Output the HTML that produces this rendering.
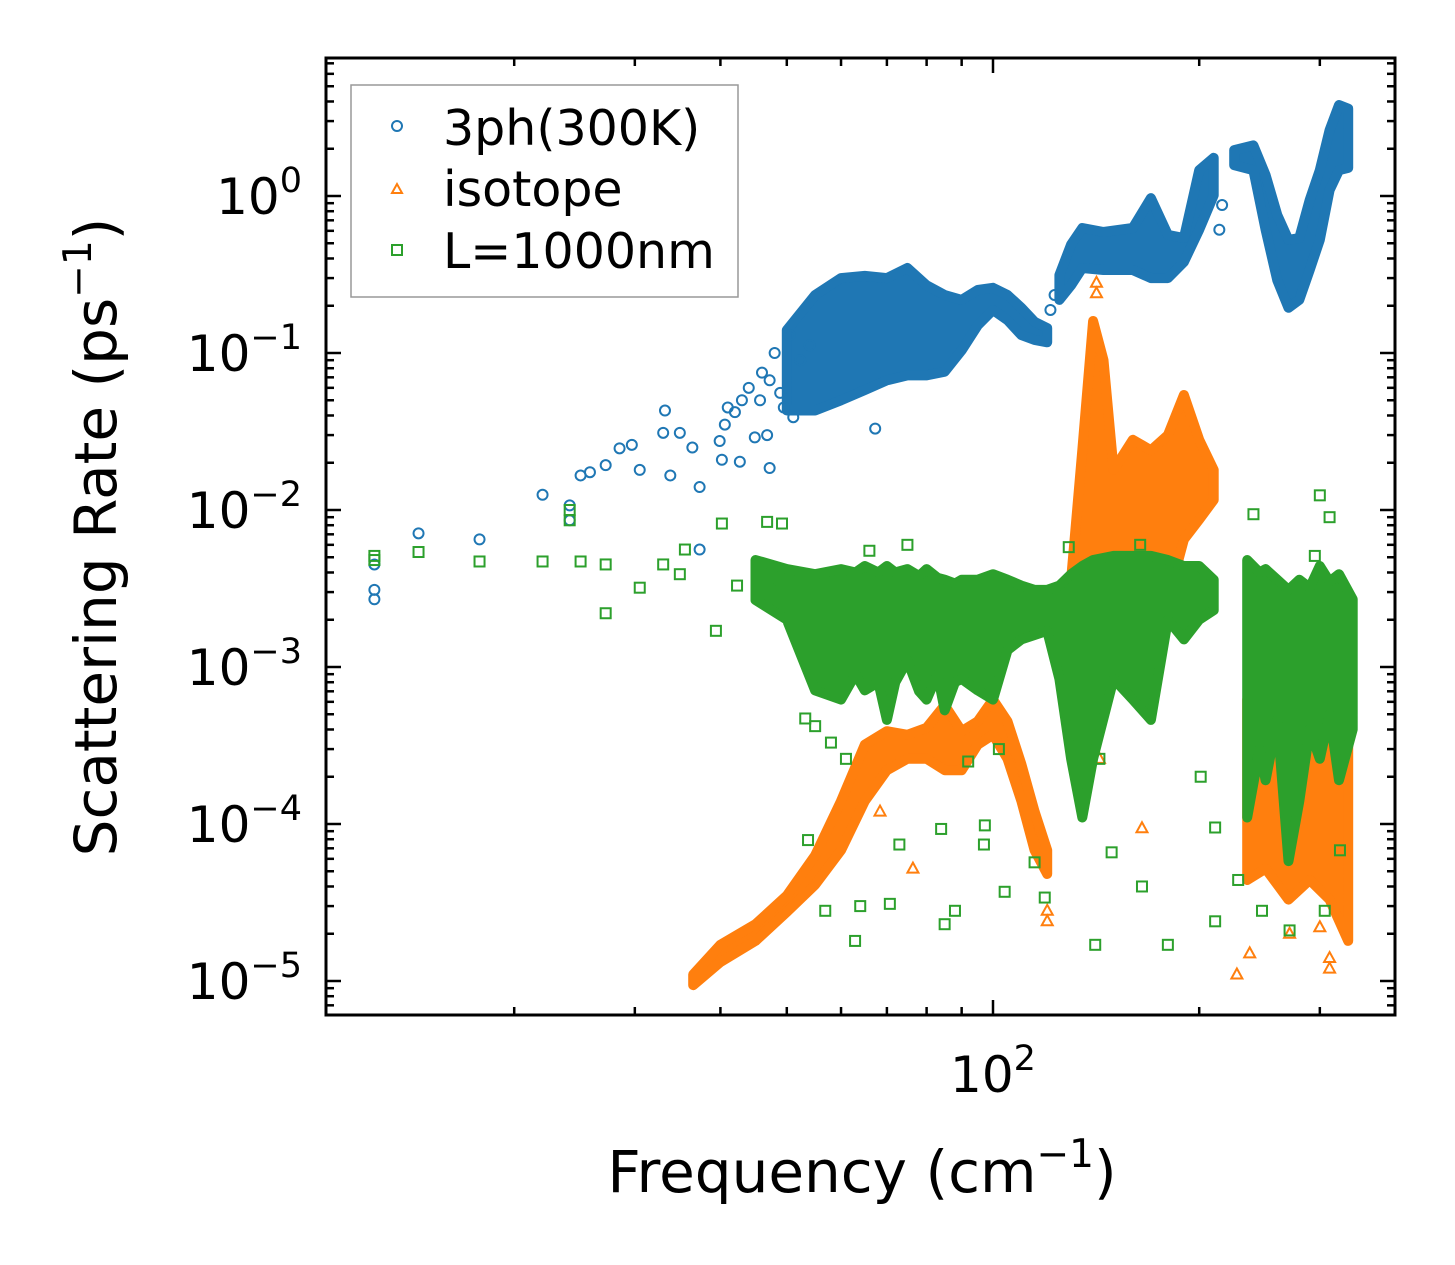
<!DOCTYPE html>
<html><head><meta charset="utf-8">
<style>
html,body{margin:0;padding:0;background:#fff;}
svg{display:block;font-family:"DejaVu Sans","Liberation Sans",sans-serif;}
</style></head>
<body>
<svg id="chart" width="1455" height="1265" viewBox="0 0 1455 1265" xmlns="http://www.w3.org/2000/svg">
<rect x="0" y="0" width="1455" height="1265" fill="#fff"/>
<g id="marks"></g>
<g id="axes"></g>
<text x="862" y="1192" font-size="58" text-anchor="middle">Frequency (cm<tspan font-size="39" dy="-25">−1</tspan><tspan dy="25">)</tspan></text>
<text transform="translate(116,537) rotate(-90)" font-size="58" text-anchor="middle">Scattering Rate (ps<tspan font-size="39" dy="-25">−1</tspan><tspan dy="25">)</tspan></text>
<g>
<rect x="351" y="85" width="387" height="212" fill="#fff" stroke="#999" stroke-width="1.5"/>
<circle cx="397" cy="126" r="5" fill="none" stroke="#1f77b4" stroke-width="2"/>
<text x="443" y="145" font-size="49">3ph(300K)</text>
<polygon points="397,184 392,193 402,193" fill="none" stroke="#ff7f0e" stroke-width="2"/>
<text x="443" y="206" font-size="49">isotope</text>
<rect x="392" y="245" width="10" height="10" fill="none" stroke="#2ca02c" stroke-width="2"/>
<text x="443" y="268" font-size="49">L=1000nm</text>
</g>
</svg>
<script>
// ---- data (frequency in cm^-1, rate in ps^-1) ----
const blueBandF  = [50,55,60,65,70,75,80,85,90,95,100,105,110,115,120,null,125,130,135,145,160,170,180,190,200,210,null,225,240,250,260,270,280,290,300,310,320,330];
const blueBandHi = [0.14,0.234,0.30,0.31,0.30,0.348,0.27,0.234,0.218,0.252,0.26,0.234,0.194,0.158,0.144,null,0.314,0.49,0.625,0.59,0.625,0.97,0.565,0.54,1.46,1.75,null,1.96,2.1,1.36,0.757,0.525,0.54,0.943,1.46,2.63,3.8,3.6];
const blueBandLo = [0.043,0.043,0.050,0.058,0.067,0.072,0.072,0.076,0.104,0.150,0.188,0.162,0.130,0.121,0.117,null,0.218,0.27,0.348,0.338,0.338,0.30,0.30,0.38,0.61,1.01,null,1.57,1.46,0.61,0.29,0.194,0.218,0.338,0.525,1.09,1.46,1.51];
const bluePtsF = [12.5,12.5,12.5,14.5,17.8,22.0,24.1,24.1,25.0,25.8,27.2,28.5,29.7,30.5,33.0,33.2,33.8,34.9,36.4,37.3,39.9,40.2,40.6,42.0,42.7,44.9,45.7,46.8,47.2,48.9,51.1,67.3,37.3,52.3,54.0,47.2,123,121.3,214,216,46,48,49.5,44,43,41,50.5];
const bluePtsR = [4.5e-3,3.1e-3,2.7e-3,7.1e-3,6.5e-3,0.0125,0.0107,8.6e-3,0.0166,0.0174,0.0193,0.0247,0.026,0.018,0.031,0.043,0.0166,0.031,0.025,0.014,0.0275,0.0209,0.035,0.042,0.0203,0.029,0.050,0.030,0.0185,0.0557,0.039,0.033,5.6e-3,0.09,0.112,0.067,0.234,0.188,0.61,0.876,0.075,0.1,0.045,0.06,0.05,0.045,0.13];

const orangeBandF  = [36.5,40,45,50,55,60,65,70,75,80,85,90,95,100,105,110,115,120,null,130,135,140,145,150,160,170,180,190,200,210,null,235,250,270,290,310,330];
const orangeBandHi = [1.1e-5,1.7e-5,2.3e-5,3.5e-5,6.3e-5,1.4e-4,3.2e-4,3.9e-4,3.7e-4,4.1e-4,5.7e-4,3.9e-4,4.5e-4,6.2e-4,4.5e-4,2.4e-4,1.2e-4,6.8e-5,null,3.6e-3,0.024,0.16,0.09,0.018,0.028,0.024,0.030,0.054,0.028,0.018,null,6.2e-4,7.1e-4,4.6e-4,1.28e-3,8.4e-4,4.6e-4];
const orangeBandLo = [9.4e-6,1.32e-5,1.8e-5,2.75e-5,4.1e-5,6.8e-5,1.4e-4,2.2e-4,2.6e-4,2.6e-4,2.2e-4,2.2e-4,3.2e-4,3.7e-4,2.6e-4,1.4e-4,6.8e-5,4.8e-5,null,1.28e-3,2.7e-3,4.8e-3,4.8e-3,4.8e-3,4.2e-3,2.7e-3,2.7e-3,6.5e-3,8.7e-3,0.0116,null,4.4e-5,5.2e-5,3.3e-5,4.4e-5,3.3e-5,1.8e-5];
const orangePtsF = [165,227,237,310,310,120,120,143,271,300,68.4,76.4,141.6,141.6,130];
const orangePtsR = [9.4e-5,1.1e-5,1.5e-5,1.4e-5,1.2e-5,2.8e-5,2.4e-5,2.6e-4,2e-5,2.2e-5,1.2e-4,5.2e-5,0.24,0.28,2.3e-3];

const greenBandF  = [45,50,55,60,63,65,68,70,72,75,78,80,83,85,88,90,95,100,105,110,115,120,125,130,135,140,150,160,170,180,190,200,210,null,235,245,250,260,270,280,290,300,310,320,335];
const greenBandHi = [4.8e-3,4.2e-3,3.9e-3,4.2e-3,4.0e-3,4.4e-3,4.0e-3,4.4e-3,4.0e-3,4.2e-3,3.8e-3,4.2e-3,3.7e-3,3.6e-3,3.4e-3,3.6e-3,3.6e-3,3.9e-3,3.6e-3,3.3e-3,3.1e-3,3.1e-3,3.3e-3,3.9e-3,4.4e-3,4.8e-3,5.1e-3,5.1e-3,5.1e-3,4.8e-3,4.4e-3,4.4e-3,3.6e-3,null,4.8e-3,4.0e-3,4.2e-3,3.6e-3,3.1e-3,3.6e-3,3.2e-3,4.4e-3,3.5e-3,3.9e-3,2.7e-3];
const greenBandLo = [2.67e-3,2.0e-3,7.1e-4,6.2e-4,9e-4,7.1e-4,8e-4,4.6e-4,8e-4,1.1e-3,7e-4,6.2e-4,9e-4,5.3e-4,8e-4,8.4e-4,7.1e-4,6.2e-4,1.28e-3,1.5e-3,1.6e-3,1.7e-3,8.4e-4,2.6e-4,1.1e-4,2.6e-4,8.4e-4,6.2e-4,4.6e-4,2.0e-3,1.5e-3,2.0e-3,2.3e-3,null,1.1e-4,3e-4,1.9e-4,4.6e-4,5.8e-5,1.4e-4,4e-4,2.6e-4,5e-4,1.9e-4,4.0e-4];
const greenPtsF = [12.5,12.5,14.5,17.8,22.0,24.1,24.1,25,27.2,27.2,30.5,33,34.9,35.5,39.4,40.2,42.3,46.8,47.2,49.2,53.2,53.7,56.9,62.9,64,70.7,85,88,97.3,104,119,115,141,149,165,180,201,211,211,228,247,271,305,300,310,240,295,164,129,143,84,97,73,321,55,58,61,66,75,92,102];
const greenPtsR = [5.1e-3,4.8e-3,5.4e-3,4.7e-3,4.7e-3,0.0100,8.6e-3,4.7e-3,4.5e-3,2.2e-3,3.2e-3,4.5e-3,3.9e-3,5.6e-3,1.7e-3,8.2e-3,3.3e-3,8.4e-3,3.6e-3,8.2e-3,4.7e-4,7.9e-5,2.8e-5,1.8e-5,3.0e-5,3.1e-5,2.3e-5,2.8e-5,9.8e-5,3.7e-5,3.4e-5,5.7e-5,1.7e-5,6.6e-5,4.0e-5,1.7e-5,2.0e-4,9.5e-5,2.4e-5,4.4e-5,2.8e-5,2.1e-5,2.8e-5,0.0124,9e-3,9.4e-3,5.1e-3,6e-3,5.8e-3,2.6e-4,9.3e-5,7.4e-5,7.4e-5,6.8e-5,4.2e-4,3.3e-4,2.6e-4,5.5e-3,6e-3,2.5e-4,3e-4];

const xMinorTicks = [20,30,40,50,60,70,80,90,200,300];
const xMajorTicks = [100];
const yMajorExp = [-5,-4,-3,-2,-1,0];
const yTickLabels = ["−5","−4","−3","−2","−1","0"];

// ---- axes ----
const L=326,R=1395,T=58,B=1015;
function xs(f){return 993+685*Math.log10(f/100);}
function ys(r){return 196-157*Math.log10(r);}
const NS="http://www.w3.org/2000/svg";
function mk(tag,attrs,parent){const e=document.createElementNS(NS,tag);for(const k in attrs)e.setAttribute(k,attrs[k]);parent.appendChild(e);return e;}
const marks=document.getElementById('marks');
const axes=document.getElementById('axes');

function drawBand(F,Hi,Lo,color,name){
  let seg=[];const segs=[];
  for(let i=0;i<F.length;i++){ if(F[i]===null){if(seg.length)segs.push(seg);seg=[];} else seg.push(i); }
  if(seg.length)segs.push(seg);
  segs.forEach(s=>{
    const pts=[];
    s.forEach(i=>pts.push(xs(F[i]).toFixed(1)+','+ys(Hi[i]).toFixed(1)));
    s.slice().reverse().forEach(i=>pts.push(xs(F[i]).toFixed(1)+','+ys(Lo[i]).toFixed(1)));
    const p=mk('polygon',{points:pts.join(' '),fill:color,stroke:color,'stroke-width':10,'stroke-linejoin':'round'},marks);
    
    
  });
}
function drawPts(F,Rr,color,shape,name){
  for(let i=0;i<F.length;i++){
    const x=xs(F[i]),y=ys(Rr[i]);let e;
    if(shape==='c') e=mk('circle',{cx:x,cy:y,r:5,fill:'none',stroke:color,'stroke-width':2},marks);
    else if(shape==='t') e=mk('polygon',{points:`${x},${y-6} ${x-5.5},${y+4} ${x+5.5},${y+4}`,fill:'none',stroke:color,'stroke-width':2},marks);
    else e=mk('rect',{x:x-5,y:y-5,width:10,height:10,fill:'none',stroke:color,'stroke-width':2},marks);
    
    
  }
}
drawBand(blueBandF,blueBandHi,blueBandLo,'#1f77b4','band-3ph');
drawPts(bluePtsF,bluePtsR,'#1f77b4','c','point-3ph');
drawBand(orangeBandF,orangeBandHi,orangeBandLo,'#ff7f0e','band-isotope');
drawPts(orangePtsF,orangePtsR,'#ff7f0e','t','point-isotope');
drawBand(greenBandF,greenBandHi,greenBandLo,'#2ca02c','band-boundary');
drawPts(greenPtsF,greenPtsR,'#2ca02c','s','point-boundary');

// frame
const fr=mk('rect',{x:L,y:T,width:R-L,height:B-T,fill:'none',stroke:'#000','stroke-width':3},axes);


function tick(x1,y1,x2,y2){mk('line',{x1,y1,x2,y2,stroke:'#000','stroke-width':2.5},axes);}
xMinorTicks.forEach(f=>{const x=xs(f);tick(x,B,x,B-8);tick(x,T,x,T+8);});
xMajorTicks.forEach((f,i)=>{const x=xs(f);tick(x,B,x,B-15);tick(x,T,x,T+15);
  const t=mk('text',{x:x,y:1092,'font-size':50,'text-anchor':'middle'},axes);t.textContent='10';
  
  
  const s=mk('tspan',{'font-size':35,dy:-22},t);s.textContent='2';});
for(let e=-6;e<=0;e++){
  for(let m=1;m<10;m++){
    const y=ys(m*Math.pow(10,e)); if(y<T||y>B) continue;
    const len=m===1?15:8; tick(L,y,L+len,y); tick(R,y,R-len,y);
  }
}
yMajorExp.forEach((e,i)=>{const y=ys(Math.pow(10,e));
  const t=mk('text',{x:302,y:y+18,'font-size':50,'text-anchor':'end'},axes);t.textContent='10';
  
  
  const s=mk('tspan',{'font-size':35,dy:-22},t);s.textContent=yTickLabels[i];
});
</script>
</body></html>
